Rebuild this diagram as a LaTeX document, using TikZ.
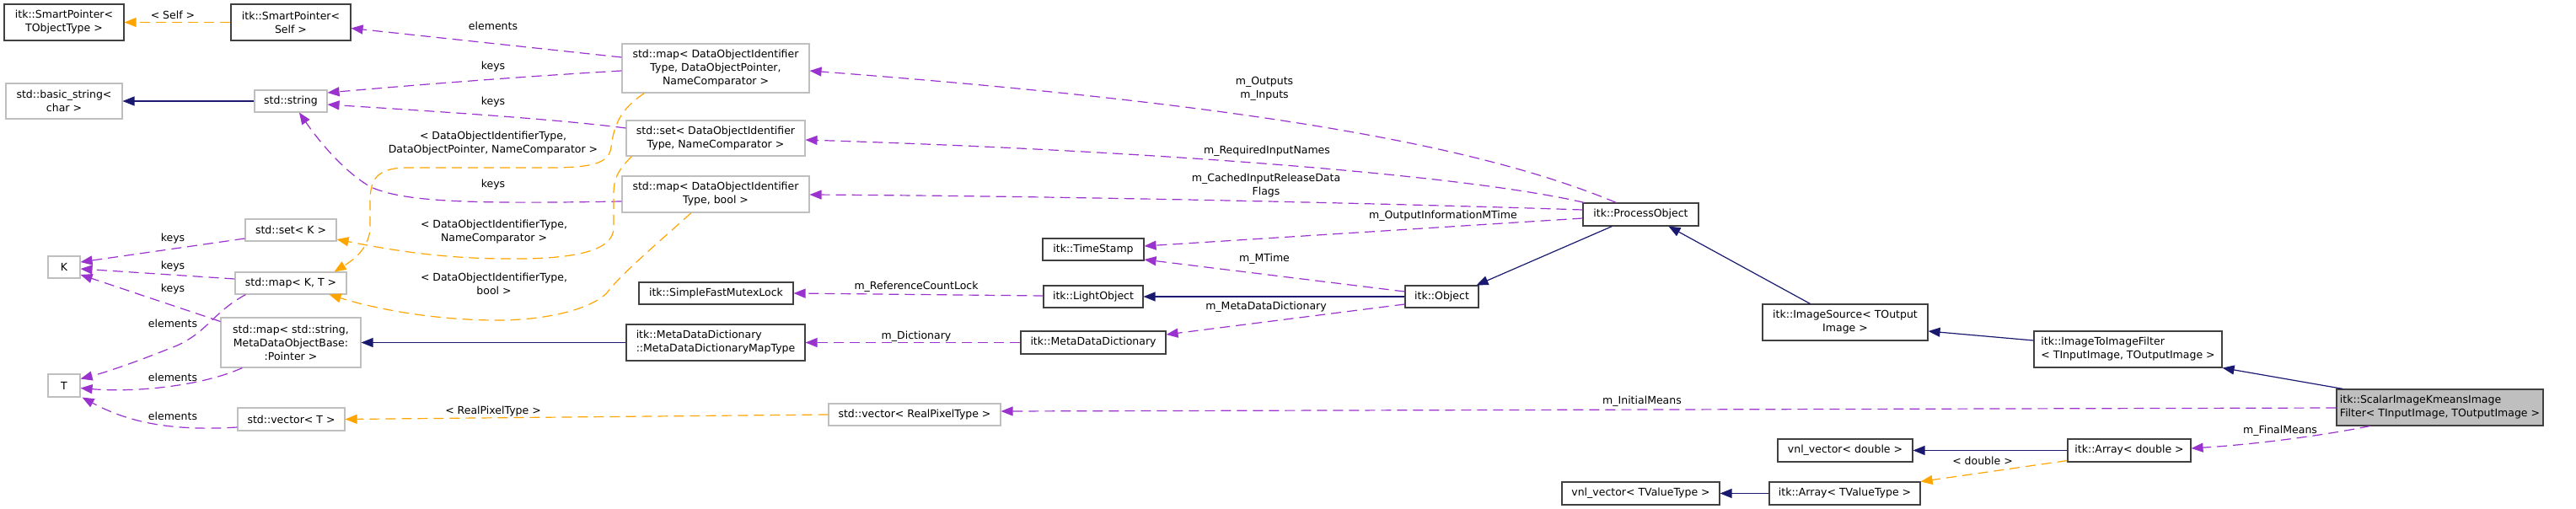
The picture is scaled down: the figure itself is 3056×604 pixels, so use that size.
\documentclass[tikz,border=0pt]{standalone}
\usepackage{fontspec}
\setmainfont{DejaVu Sans}
\usetikzlibrary{arrows.meta,calc}
\definecolor{depc}{HTML}{9A32CD}
\definecolor{tmplc}{HTML}{FFA500}
\definecolor{inhc}{HTML}{191970}
\definecolor{gbc}{HTML}{BFBFBF}
\definecolor{bbc}{HTML}{404040}
\definecolor{selc}{HTML}{BFBFBF}
\begin{document}
\begin{tikzpicture}[x=1pt,y=-1pt,
  every node/.style={font=\fontsize{12.5}{16}\selectfont, inner sep=0pt, align=center},
  bnode/.style={draw=bbc, line width=1.1pt, minimum height=26pt},
  gnode/.style={draw=gbc, line width=1.1pt, minimum height=26pt},
  lbl/.style={},
  tipstyle/.style={-{Triangle[length=14pt,width=11pt]}},
  depe/.style={draw=depc, line width=1.2pt, dash pattern=on 12pt off 7pt, tipstyle},
  tmple/.style={draw=tmplc, line width=1.2pt, dash pattern=on 12pt off 7pt, tipstyle},
  inhe/.style={draw=inhc, line width=1.2pt, tipstyle}]
\fill[white] (0,0) rectangle (3056,604);
\useasboundingbox (0,0) rectangle (3056,604);

% nodes
\node[bnode, minimum width=142pt, minimum height=43pt] (spT) at (76,26.5) {itk::SmartPointer<\\TObjectType >};
\node[bnode, minimum width=142pt, minimum height=43pt] (spS) at (345,26.5) {itk::SmartPointer<\\Self >};
\node[gnode, minimum width=138pt, minimum height=42pt] (bstr) at (76,120) {std::basic\_string<\\char >};
\node[gnode, minimum width=86pt] (str) at (345,120) {std::string};
\node[gnode, minimum width=108pt] (setK) at (345,273) {std::set< K >};
\node[gnode, minimum width=38pt] (K) at (76,317) {K};
\node[gnode, minimum width=132pt] (mapKT) at (345,336) {std::map< K, T >};
\node[gnode, minimum width=166pt, minimum height=59pt] (mapStr) at (345,406.5) {std::map< std::string,\\MetaDataObjectBase:\\:Pointer >};
\node[gnode, minimum width=38pt, minimum height=27pt] (T) at (76,457.5) {T};
\node[gnode, minimum width=127pt, minimum height=27pt] (vecT) at (345.5,497.5) {std::vector< T >};
\node[gnode, minimum width=222pt, minimum height=58pt] (mapDOP) at (849,81) {std::map< DataObjectIdentifier\\Type, DataObjectPointer,\\NameComparator >};
\node[gnode, minimum width=212pt, minimum height=42pt] (setDO) at (849,164) {std::set< DataObjectIdentifier\\Type, NameComparator >};
\node[gnode, minimum width=222pt, minimum height=43pt] (mapBool) at (849,230.5) {std::map< DataObjectIdentifier\\Type, bool >};
\node[bnode, minimum width=183pt] (sfml) at (849.5,348) {itk::SimpleFastMutexLock};
\node[bnode, minimum width=212pt, minimum height=43pt, align=left] (mddmt) at (849,406.5) {itk::MetaDataDictionary\\::MetaDataDictionaryMapType};
\node[gnode, minimum width=204pt] (vecRP) at (1085,492) {std::vector< RealPixelType >};
\node[bnode, minimum width=120pt] (ts) at (1297,296) {itk::TimeStamp};
\node[bnode, minimum width=118pt] (lo) at (1297,352) {itk::LightObject};
\node[bnode, minimum width=172pt, minimum height=27pt] (mdd) at (1297,406.5) {itk::MetaDataDictionary};
\node[bnode, minimum width=137pt, minimum height=27pt] (po) at (1946.5,254.5) {itk::ProcessObject};
\node[bnode, minimum width=87pt] (obj) at (1710.5,352) {itk::Object};
\node[bnode, minimum width=187pt, minimum height=27pt] (vnlT) at (1946.5,585.5) {vnl\_vector< TValueType >};
\node[bnode, minimum width=196pt, minimum height=43pt] (isrc) at (2189,382.5) {itk::ImageSource< TOutput\\Image >};
\node[bnode, minimum width=223pt, minimum height=43pt, align=left] (itif) at (2524.5,414.5) {itk::ImageToImageFilter\\< TInputImage, TOutputImage >};
\node[bnode, minimum width=160pt, minimum height=27pt] (vnlD) at (2189,534.5) {vnl\_vector< double >};
\node[bnode, minimum width=146pt, minimum height=27pt] (arrD) at (2526,534.5) {itk::Array< double >};
\node[bnode, minimum width=179pt, minimum height=27pt] (arrT) at (2188.5,585.5) {itk::Array< TValueType >};
\node[bnode, fill=selc, minimum width=245pt, minimum height=43pt, align=left] (sikif) at (2894.5,483.5) {itk::ScalarImageKmeansImage\\Filter< TInputImage, TOutputImage >};

% edges
\draw[tmple] (spS.west) -- (spT.east);
\draw[depe] ($(mapDOP.west)+(0,-13)$) -- ($(spS.east)+(0,7)$);
\draw[depe] ($(mapDOP.west)+(0,3)$) .. controls (600,92) and (480,102) .. ($(str.east)+(0,-10)$);
\draw[depe] ($(setDO.west)+(0,-12)$) .. controls (650,140) and (480,130) .. ($(str.east)+(0,4)$);
\draw[depe] ($(mapBool.west)+(0,8.5)$) .. controls (560,242) and (480,240) .. (440,222) .. controls (410,205) and (380,170) .. ($(str.south)+(10,0)$);
\draw[inhe] (str.west) -- (bstr.east);
\draw[depe] ($(setK.west)+(0,10)$) -- ($(K.east)+(0,-6)$);
\draw[depe] ($(mapKT.west)+(0,-5)$) -- ($(K.east)+(0,2)$);
\draw[depe] ($(mapStr.north west)+(0,5)$) -- ($(K.east)+(0,9)$);
\draw[depe] ($(mapKT.south west)+(13,0)$) .. controls (250,372) and (245,398) .. (200,414) .. controls (160,430) and (125,442) .. ($(T.east)+(0,-8)$);
\draw[depe] ($(mapStr.south west)+(26,0)$) .. controls (240,458) and (160,466) .. ($(T.east)+(0,3)$);
\draw[depe] ($(vecT.west)+(0,9.5)$) .. controls (200,512) and (150,500) .. ($(T.south east)+(2,0)$);
\draw[tmple] ($(mapDOP.south west)+(27,0)$) .. controls (735,130) and (728,150) .. (725,175) .. controls (722,195) and (700,198) .. (660,199) -- (480,199) .. controls (445,200) and (439,215) .. (439,240) -- (439,272) .. controls (437,295) and (420,308) .. ($(mapKT.north east)+(-15,0)$);
\draw[tmple] ($(setDO.south west)+(7,0)$) .. controls (735,200) and (728,210) .. (728,230) -- (728,270) .. controls (728,292) and (700,306) .. (620,307) .. controls (540,308) and (480,300) .. ($(setK.east)+(0,11)$);
\draw[tmple] ($(mapBool.south)+(-29,0)$) .. controls (790,280) and (740,322) .. (722,345) .. controls (710,362) and (660,380) .. (590,380) .. controls (520,380) and (450,368) .. ($(mapKT.south east)+(-21,0)$);
\draw[tmple] (vecRP.west) -- (vecT.east);
\draw[depe] ($(po.north west)+(40,0)$) .. controls (1760,175) and (1500,125) .. ($(mapDOP.east)+(0,3)$);
\draw[depe] ($(po.north west)+(2,0)$) .. controls (1750,210) and (1400,180) .. ($(setDO.east)+(0,2)$);
\draw[depe] ($(po.west)+(0,-5.5)$) .. controls (1700,243) and (1300,233) .. ($(mapBool.east)+(0,0.5)$);
\draw[depe] ($(po.west)+(0,4.5)$) -- ($(ts.east)+(0,-4)$);
\draw[depe] ($(obj.west)+(0,-6)$) -- ($(ts.east)+(0,12)$);
\draw[inhe] (obj.west) -- (lo.east);
\draw[depe] ($(obj.west)+(0,9)$) -- ($(mdd.east)+(0,-9.5)$);
\draw[depe] ($(lo.west)+(0,-1)$) -- (sfml.east);
\draw[depe] (mdd.west) -- (mddmt.east);
\draw[inhe] (mddmt.west) -- (mapStr.east);
\draw[inhe] ($(po.south west)+(35,0)$) -- ($(obj.north east)+(-3,0)$);
\draw[inhe] ($(isrc.north west)+(57,0)$) -- ($(po.south west)+(102,0)$);
\draw[inhe] ($(itif.west)+(0,-10.5)$) -- ($(isrc.east)+(0,10.5)$);
\draw[inhe] ($(sikif.north west)+(8,0)$) -- (itif.south east);
\draw[depe] ($(sikif.west)+(0,0.5)$) -- ($(vecRP.east)+(0,-4)$);
\draw[depe] ($(sikif.south west)+(40,0)$) .. controls (2760,516) and (2680,527) .. ($(arrD.east)+(0,-2.5)$);
\draw[inhe] (arrD.west) -- (vnlD.east);
\draw[tmple] ($(arrD.south west)+(0,-2)$) -- (arrT.north east);
\draw[inhe] (arrT.west) -- (vnlT.east);

% labels
\node[lbl] (lSelf) at (205,18) {< Self >};
\node[lbl] (lel1) at (585,31) {elements};
\node[lbl] (lk1) at (585,79) {keys};
\node[lbl] (lk2) at (585,121) {keys};
\node[lbl] (lk3) at (585,219) {keys};
\node[lbl] (lDOP) at (585,170.5) {< DataObjectIdentifierType,\\DataObjectPointer, NameComparator >};
\node[lbl] (lNC) at (586,275) {< DataObjectIdentifierType,\\NameComparator >};
\node[lbl] (lBool) at (586,336.5) {< DataObjectIdentifierType,\\bool >};
\node[lbl] (lRP) at (585,488) {< RealPixelType >};
\node[lbl] (lk4) at (205,283) {keys};
\node[lbl] (lk5) at (205,316) {keys};
\node[lbl] (lk6) at (205,343) {keys};
\node[lbl] (le2) at (205,384) {elements};
\node[lbl] (le3) at (205,448) {elements};
\node[lbl] (le4) at (205,494) {elements};
\node[lbl] (lOut) at (1500,105) {m\_Outputs\\m\_Inputs};
\node[lbl] (lReq) at (1503,179) {m\_RequiredInputNames};
\node[lbl] (lCach) at (1502,220) {m\_CachedInputReleaseData\\Flags};
\node[lbl] (lOIM) at (1712,256) {m\_OutputInformationMTime};
\node[lbl] (lMT) at (1500,307) {m\_MTime};
\node[lbl] (lMDD) at (1502,364) {m\_MetaDataDictionary};
\node[lbl] (lRCL) at (1087,340) {m\_ReferenceCountLock};
\node[lbl] (lDict) at (1087,399) {m\_Dictionary};
\node[lbl] (lIM) at (1948,476) {m\_InitialMeans};
\node[lbl] (lFM) at (2705,511) {m\_FinalMeans};
\node[lbl] (lDbl) at (2352,547) {< double >};
\end{tikzpicture}
\end{document}
